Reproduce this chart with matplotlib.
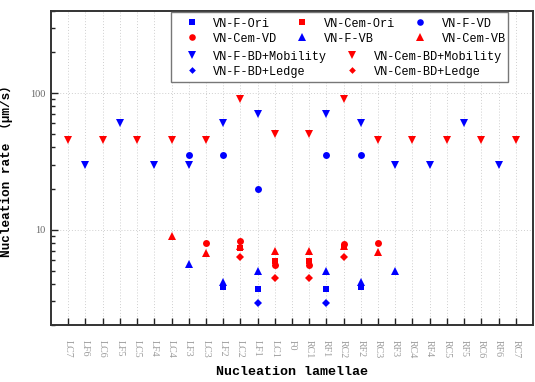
import matplotlib
matplotlib.use("Agg")
import matplotlib.pyplot as plt
from matplotlib.patches import Rectangle

categories = ['LC7', 'LF6', 'LC6', 'LF5', 'LC5', 'LF4', 'LC4', 'LF3', 'LC3', 'LF2', 'LC2', 'LF1', 'LC1', 'F0',
              'RC1', 'RF1', 'RC2', 'RF2', 'RC3', 'RF3', 'RC4', 'RF4', 'RC5', 'RF5', 'RC6', 'RF6', 'RC7']

f_ori_cats = ['LF2', 'LF1', 'RF1', 'RF2']
f_ori_vals = [3.8, 3.7, 3.7, 3.8]
cem_ori_cats = ['LC2', 'LC1', 'RC1', 'RC2']
cem_ori_vals = [7.3, 5.9, 5.9, 7.4]
f_vd_cats = ['LF3', 'LF2', 'LF1', 'RF1', 'RF2']
f_vd_vals = [35, 35, 20, 35, 35]
cem_vd_cats = ['LC3', 'LC2', 'LC1', 'RC1', 'RC2', 'RC3']
cem_vd_vals = [8.0, 8.2, 5.5, 5.5, 7.9, 8.0]
f_vb_cats = ['LF3', 'LF2', 'LF1', 'RF1', 'RF2', 'RF3']
f_vb_vals = [5.6, 4.1, 5.0, 5.0, 4.1, 5.0]
cem_vb_cats = ['LC4', 'LC3', 'LC2', 'LC1', 'RC1', 'RC2', 'RC3']
cem_vb_vals = [9.0, 6.7, 7.6, 7.0, 7.0, 7.6, 6.8]
f_bdm_cats = ['LF6', 'LF5', 'LF4', 'LF3', 'LF2', 'LF1', 'RF1', 'RF2', 'RF3', 'RF4', 'RF5', 'RF6']
f_bdm_vals = [30, 60, 30, 30, 60, 70, 70, 60, 30, 30, 60, 30]
cem_bdm_cats = ['LC7', 'LC6', 'LC5', 'LC4', 'LC3', 'LC2', 'LC1', 'RC1', 'RC2', 'RC3', 'RC4', 'RC5', 'RC6', 'RC7']
cem_bdm_vals = [45, 45, 45, 45, 45, 90, 50, 50, 90, 45, 45, 45, 45, 45]
f_bdl_cats = ['LF1', 'RF1']
f_bdl_vals = [2.9, 2.9]
cem_bdl_cats = ['LC2', 'LC1', 'RC1', 'RC2']
cem_bdl_vals = [6.3, 4.45, 4.45, 6.3]

series = [
    ('VN-F-Ori', f_ori_cats, f_ori_vals, 's', 'blue', 3.8),
    ('VN-Cem-Ori', cem_ori_cats, cem_ori_vals, 's', 'red', 3.8),
    ('VN-F-VD', f_vd_cats, f_vd_vals, 'o', 'blue', 5.0),
    ('VN-Cem-VD', cem_vd_cats, cem_vd_vals, 'o', 'red', 5.0),
    ('VN-F-VB', f_vb_cats, f_vb_vals, '^', 'blue', 5.8),
    ('VN-Cem-VB', cem_vb_cats, cem_vb_vals, '^', 'red', 5.8),
    ('VN-F-BD+Mobility', f_bdm_cats, f_bdm_vals, 'v', 'blue', 5.8),
    ('VN-Cem-BD+Mobility', cem_bdm_cats, cem_bdm_vals, 'v', 'red', 5.8),
    ('VN-F-BD+Ledge', f_bdl_cats, f_bdl_vals, 'D', 'blue', 3.6),
    ('VN-Cem-BD+Ledge', cem_bdl_cats, cem_bdl_vals, 'D', 'red', 3.6),
]

mono = ['Liberation Mono', 'Noto Sans CJK SC']
fig = plt.figure(figsize=(5.35, 3.82), dpi=100)
ax = fig.add_axes([51 / 535, 1 - 325 / 382, 482 / 535, 314 / 382])

handles = []
for name, cats, vals, mk, col, ms in series:
    xs = [categories.index(c) for c in cats]
    h, = ax.plot(xs, vals, linestyle='none', marker=mk, color=col, markersize=ms,
                 markeredgewidth=0, label=name, zorder=3)
    handles.append(h)

ax.set_yscale('log')
ax.set_ylim(2, 400)
ax.set_xlim(-1, 27)
ax.set_xticks(range(len(categories)))
ax.set_xticklabels(categories, rotation=270, va='top', ha='center',
                   fontsize=7.2, color='#9a9a9a', family='Liberation Serif')
ax.set_yticks([10, 100])
ax.set_yticklabels(['10', '100'], fontsize=7.5, color='#666666', family='Liberation Serif')
ax.tick_params(axis='x', which='both', direction='in', length=5, width=1, pad=10.5, colors='#222222',
               labelcolor='#9a9a9a')
ax.tick_params(axis='y', which='major', direction='in', length=5, width=1, pad=4, colors='#222222',
               labelcolor='#666666')
ax.tick_params(axis='y', which='minor', direction='in', length=3, width=1, colors='#222222')
ax.yaxis.set_minor_formatter(matplotlib.ticker.NullFormatter())
ax.grid(True, which='major', linestyle=(0, (1, 2)), color='#cfcfcf', linewidth=0.7, zorder=0)
for s in ax.spines.values():
    s.set_linewidth(1.4)
    s.set_color('#333333')

ax.set_xlabel('Nucleation lamellae', fontsize=9.6, fontweight='bold', family=mono, labelpad=6)
ax.set_ylabel('Nucleation rate （μm/s）', fontsize=9.2, fontweight='bold', family=mono, labelpad=12)

leg_kw = dict(frameon=False, prop={'family': mono, 'size': 8.6}, handlelength=2.0,
              handletextpad=0.8, columnspacing=1.1, borderpad=0, borderaxespad=0,
              labelspacing=0.25, markerscale=0.95, loc='upper left')
order1 = [0, 3, 1, 4, 2, 5]
order2 = [6, 8, 7, 9]
leg1 = ax.legend(handles=[handles[i] for i in order1], ncol=3, bbox_to_anchor=(0.267, 0.979), **leg_kw)
ax.add_artist(leg1)
leg2 = ax.legend(handles=[handles[i] for i in order2], ncol=2, bbox_to_anchor=(0.267, 0.874), **leg_kw)
frame = Rectangle((0.249, 0.774), 0.699, 0.223, transform=ax.transAxes, fill=True,
                  facecolor='white', edgecolor='#777777', linewidth=1.0, zorder=4)
ax.add_patch(frame)
leg1.set_zorder(5)
leg2.set_zorder(5)

fig.savefig('out.png', dpi=100)
